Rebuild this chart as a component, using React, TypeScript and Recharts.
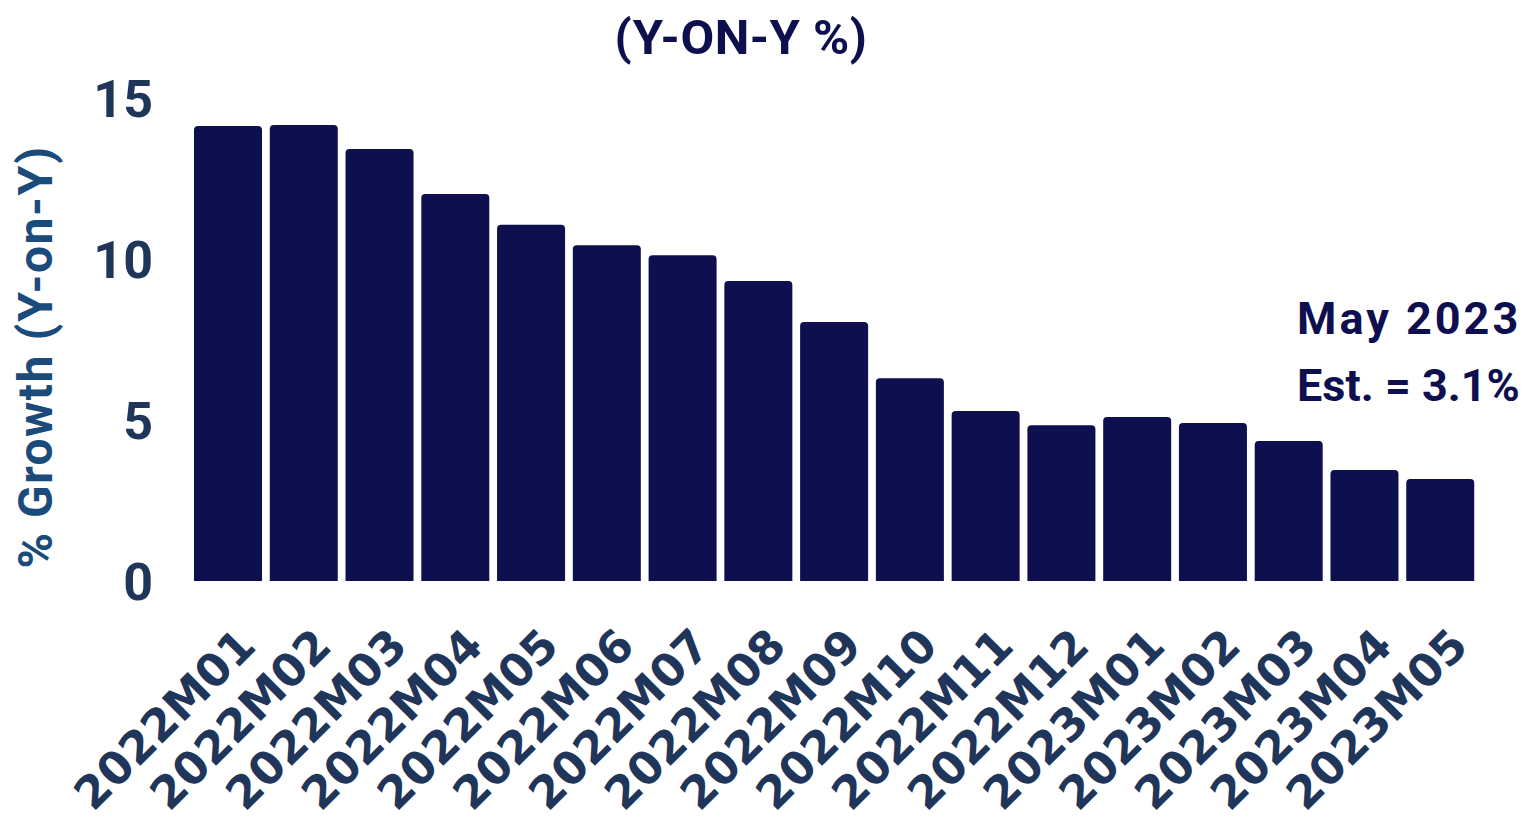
import React from "react";
import { BarChart, Bar, XAxis, YAxis } from "recharts";

const months = [
  "2022M01", "2022M02", "2022M03", "2022M04", "2022M05", "2022M06",
  "2022M07", "2022M08", "2022M09", "2022M10", "2022M11", "2022M12",
  "2023M01", "2023M02", "2023M03", "2023M04", "2023M05",
];

const growth = [
  14.13, 14.16, 13.42, 12.02, 11.06, 10.43, 10.12, 9.32, 8.04,
  6.3, 5.28, 4.84, 5.09, 4.91, 4.35, 3.45, 3.17,
];

const yTicks = [0, 5, 10, 15];

const data = months.map((m, i) => ({ month: m, growth: growth[i] }));

const NAVY = "#0d0f4f";
const TICK = "#1f3559";

const XTick = (props: any) => {
  const { x, y, payload } = props;
  return (
    <g transform={`translate(${x + 30},${y + 59})`}>
      <text
        textAnchor="end"
        transform="rotate(-45)"
        fill={TICK}
        fontFamily="DejaVu Sans"
        fontWeight={700}
        fontSize={45}
      >
        {payload.value}
      </text>
    </g>
  );
};

const YTick = (props: any) => {
  const { x, y, payload } = props;
  return (
    <text
      x={x - 29}
      y={y}
      dy="0.36em"
      textAnchor="end"
      fill={TICK}
      fontFamily="Roboto"
      fontWeight={700}
      fontSize={52}
    >
      {payload.value}
    </text>
  );
};

export default function App() {
  return (
    <div style={{ position: "absolute", left: 0, top: 0, width: 1538, height: 825, background: "#fff" }}>
      <BarChart
        width={1538}
        height={825}
        data={data}
        margin={{ top: 98, right: 60, bottom: 0, left: 0 }}
        barCategoryGap={4}
      >
        <XAxis
          dataKey="month"
          axisLine={false}
          tickLine={false}
          interval={0}
          height={244}
          tick={<XTick />}
        />
        <YAxis
          width={190}
          domain={[0, 15]}
          ticks={yTicks}
          axisLine={false}
          tickLine={false}
          tick={<YTick />}
        />
        <Bar dataKey="growth" fill={NAVY} radius={[4, 4, 0, 0]} isAnimationActive={false} />
      </BarChart>
      <div
        style={{
          position: "absolute",
          left: 36,
          top: 357,
          transform: "translate(-50%, -50%) rotate(-90deg)",
          whiteSpace: "nowrap",
          fontFamily: "Roboto",
          fontWeight: 700,
          fontSize: 48,
          letterSpacing: 1.5,
          lineHeight: 1,
          color: "#1b4b7a",
        }}
      >
        % Growth (Y-on-Y)
      </div>
      <div
        style={{
          position: "absolute",
          left: 741,
          top: 37,
          transform: "translate(-50%, -50%)",
          whiteSpace: "nowrap",
          fontFamily: "Roboto",
          fontWeight: 700,
          fontSize: 49,
          letterSpacing: 0.5,
          lineHeight: 1,
          color: NAVY,
        }}
      >
        (Y-ON-Y %)
      </div>
      <div
        style={{
          position: "absolute",
          left: 1297,
          top: 285,
          whiteSpace: "nowrap",
          fontFamily: "Roboto",
          fontWeight: 700,
          fontSize: 45,
          lineHeight: "67px",
          color: NAVY,
        }}
      >
        <div style={{ letterSpacing: 3 }}>May 2023</div>
        <div>Est. = 3.1%</div>
      </div>
    </div>
  );
}
